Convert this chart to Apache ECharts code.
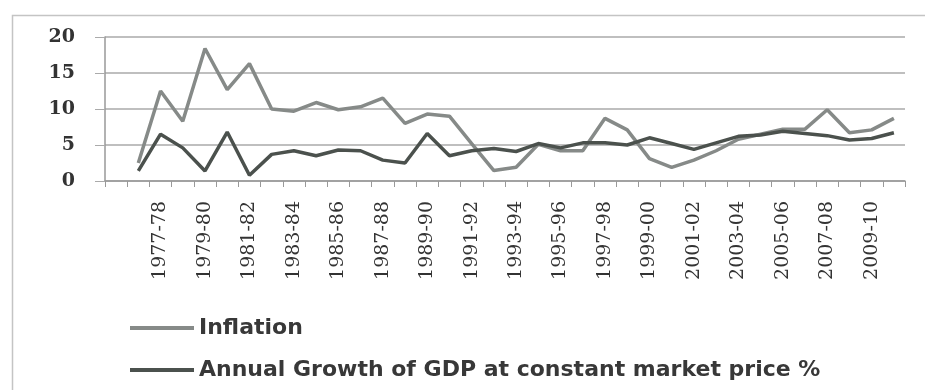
<!DOCTYPE html>
<html>
<head>
<meta charset="utf-8">
<script src="https://cdn.jsdelivr.net/npm/echarts@6/dist/echarts.min.js"></script>
<style>html,body{margin:0;padding:0;background:#fff}#c{width:925px;height:390px}</style>
</head>
<body>
<div id="c"></div>
<script>
var categories = ['', '1976-77', '1977-78', '1978-79', '1979-80', '1980-81', '1981-82', '1982-83', '1983-84', '1984-85', '1985-86', '1986-87', '1987-88', '1988-89', '1989-90', '1990-91', '1991-92', '1992-93', '1993-94', '1994-95', '1995-96', '1996-97', '1997-98', '1998-99', '1999-00', '2000-01', '2001-02', '2002-03', '2003-04', '2004-05', '2005-06', '2006-07', '2007-08', '2008-09', '2009-10', '2010-11'];
var inflation = [null, 2.5, 12.5, 8.3, 18.4, 12.7, 16.3, 10.0, 9.7, 10.9, 9.9, 10.3, 11.5, 8.0, 9.3, 9.0, 5.2, 1.45, 1.9, 5.1, 4.2, 4.2, 8.7, 7.1, 3.1, 1.9, 2.9, 4.2, 5.8, 6.5, 7.2, 7.2, 9.9, 6.7, 7.1, 8.7];
var gdpGrowth = [null, 1.4, 6.5, 4.6, 1.4, 6.8, 0.8, 3.7, 4.2, 3.5, 4.3, 4.2, 2.9, 2.5, 6.6, 3.5, 4.2, 4.5, 4.1, 5.2, 4.6, 5.3, 5.3, 5.0, 6.0, 5.2, 4.4, 5.3, 6.2, 6.4, 6.9, 6.6, 6.3, 5.7, 5.9, 6.7];
var yTicks = ['0', '5', '10', '15', '20'];

var chart = echarts.init(document.getElementById('c'));
chart.setOption({
  animation: false,
  backgroundColor: '#ffffff',
  graphic: [{
    type: 'rect', left: 10, top: 13,
    shape: { width: 930, height: 390 },
    style: { fill: 'none', stroke: '#c4c4c4', lineWidth: 1.5 },
    silent: true
  }],
  grid: { left: 105, right: 20, top: 37, bottom: 209, containLabel: false },
  legend: {
    orient: 'vertical', left: 125, top: 312,
    icon: 'rect', itemWidth: 64, itemHeight: 4, itemGap: 20,
    textStyle: { fontFamily: 'DejaVu Sans', fontSize: 22, fontWeight: 'bold', color: '#383838' },
    data: ['Inflation', 'Annual Growth of GDP at constant market price %']
  },
  xAxis: {
    type: 'category', data: categories, boundaryGap: true,
    axisLine: { lineStyle: { color: '#999', width: 1.5 } },
    axisTick: { show: true, interval: 0, length: 6, lineStyle: { color: '#999' } },
    axisLabel: {
      interval: 1, rotate: 90, margin: 20,
      fontFamily: 'DejaVu Serif', fontSize: 19, color: '#333'
    },
    splitLine: { show: false }
  },
  yAxis: {
    type: 'value', min: 0, max: 20, interval: 5,
    axisLine: { show: true, lineStyle: { color: '#999', width: 1.5 } },
    axisTick: { show: true, length: 10, lineStyle: { color: '#aaa' } },
    axisLabel: {
      margin: 30, fontFamily: 'DejaVu Serif', fontSize: 19, fontWeight: 'bold', color: '#333',
      formatter: function (v) { return yTicks[v / 5]; }
    },
    splitLine: { lineStyle: { color: '#aaa', width: 1.5 } }
  },
  series: [
    {
      name: 'Inflation', type: 'line', data: inflation, symbol: 'none',
      lineStyle: { width: 3.5, color: '#868a88' }, itemStyle: { color: '#868a88' }
    },
    {
      name: 'Annual Growth of GDP at constant market price %', type: 'line', data: gdpGrowth, symbol: 'none',
      lineStyle: { width: 3.5, color: '#4b514d' }, itemStyle: { color: '#4b514d' }
    }
  ]
});
</script>
</body>
</html>
